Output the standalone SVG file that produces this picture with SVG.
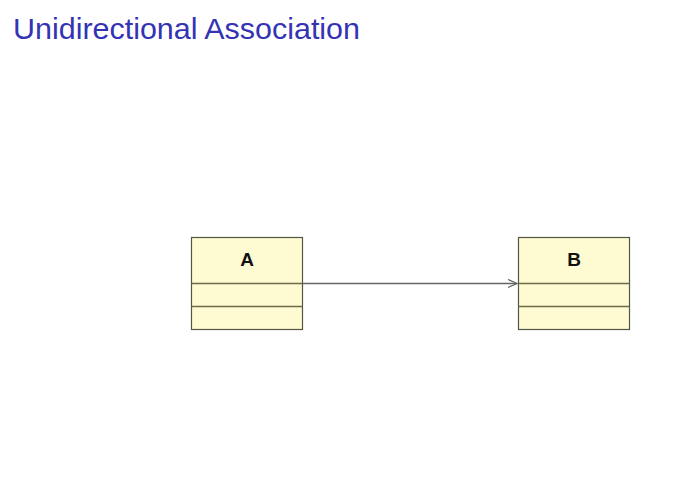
<svg xmlns="http://www.w3.org/2000/svg" width="688" height="484" viewBox="0 0 688 484">
<style>
.title{font-family:"Liberation Sans","DejaVu Sans",sans-serif;font-size:29px;fill:#3333b3}
.box{fill:#fefad2;stroke:#555544;stroke-width:1.2}
.sep{stroke:#6b6b4a;stroke-width:1.4}
.name{font-family:"Liberation Sans","DejaVu Sans",sans-serif;font-size:19px;font-weight:bold;fill:#111;text-anchor:middle}
.conn{stroke:#666;stroke-width:1.3;fill:none}
</style>
<defs>
<marker id="open" markerWidth="12" markerHeight="12" refX="10" refY="5" orient="auto" markerUnits="userSpaceOnUse">
<path d="M1,1 L10,5 L1,9" fill="none" stroke="#666" stroke-width="1.3"/>
</marker>
</defs>
<rect width="688" height="484" fill="#ffffff"/>
<text class="title" x="13" y="39" textLength="347" lengthAdjust="spacingAndGlyphs">Unidirectional Association</text>
<g id="connectors">
<line class="conn" x1="303" y1="283.5" x2="517" y2="283.5" marker-end="url(#open)"/>
</g>
<g id="A">
<rect class="box" x="191.5" y="237.5" width="111" height="92"/>
<line class="sep" x1="191.5" y1="283.5" x2="302.5" y2="283.5"/>
<line class="sep" x1="191.5" y1="306.5" x2="302.5" y2="306.5"/>
<text class="name" x="247" y="266">A</text>
</g>
<g id="B">
<rect class="box" x="518.5" y="237.5" width="111" height="92"/>
<line class="sep" x1="518.5" y1="283.5" x2="629.5" y2="283.5"/>
<line class="sep" x1="518.5" y1="306.5" x2="629.5" y2="306.5"/>
<text class="name" x="574" y="266">B</text>
</g>
</svg>
